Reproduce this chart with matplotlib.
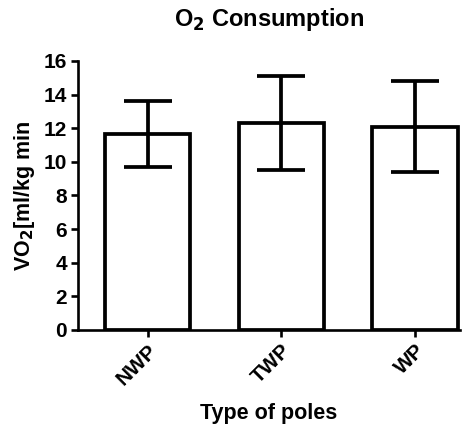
import matplotlib
matplotlib.use("Agg")
import matplotlib.pyplot as plt

categories = ["NWP", "TWP", "WP"]
means = [11.65, 12.3, 12.1]
sds = [1.95, 2.78, 2.69]
yticks = [0, 2, 4, 6, 8, 10, 12, 14, 16]

plt.rcParams['font.family'] = ['Liberation Sans', 'DejaVu Sans']
plt.rcParams['font.weight'] = 'bold'

fig = plt.figure(figsize=(4.76, 4.26), dpi=100)
ax = fig.add_axes([0.164, 0.2254, 0.802, 0.6316])

x = list(range(len(categories)))
ax.bar(x, means, width=0.64, color='white', edgecolor='black', linewidth=2.7, zorder=2)
ax.errorbar(x, means, yerr=sds, fmt='none', ecolor='black', elinewidth=2.7,
            capsize=17, capthick=2.7, zorder=3)

ax.set_xlim(-0.52, 2.335)
ax.set_ylim(0, 16)
ax.set_yticks(yticks)
ax.set_yticklabels([str(v) for v in yticks], fontsize=15, fontweight='bold')
ax.set_xticks(x)
ax.set_xticklabels(categories, rotation=45, ha='right', rotation_mode='anchor',
                   fontsize=15, fontweight='bold')

for s in ['top', 'right']:
    ax.spines[s].set_visible(False)
for s in ['left', 'bottom']:
    ax.spines[s].set_linewidth(1.9)
ax.tick_params(axis='both', width=1.9, length=5, direction='out', pad=3)

ax.set_ylabel(r"VO$_\mathbf{2}$[ml/kg min", fontsize=15.5, fontweight='bold', labelpad=5)
ax.set_xlabel("Type of poles", fontsize=15.5, fontweight='bold', labelpad=10)
ax.set_title(r"O$_\mathbf{2}$ Consumption", fontsize=17, fontweight='bold', pad=25)

fig.savefig("out.png", dpi=100, facecolor='white')
